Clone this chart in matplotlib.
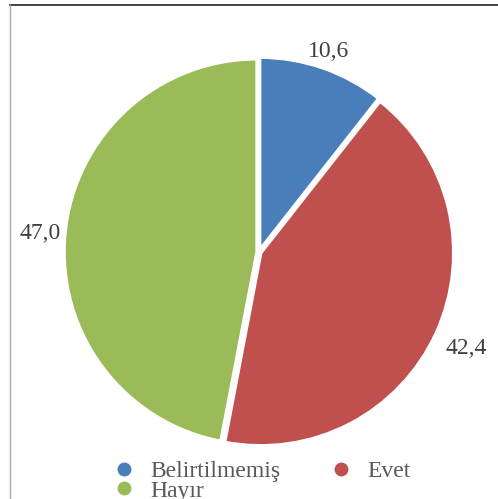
import numpy as np
import matplotlib.pyplot as plt
from matplotlib.lines import Line2D

categories = ['Belirtilmemiş', 'Evet', 'Hayır']
values = [10.6, 42.4, 47.0]
labels = ['10,6', '42,4', '47,0']
colors = ['#4a7ebb', '#c0504d', '#9bbb59']

plt.rcParams['font.family'] = ['Liberation Serif', 'DejaVu Serif']

fig = plt.figure(figsize=(4.98, 4.99), dpi=100)
W, H = 498, 499
ax = fig.add_axes([66 / W, 54 / H, 386 / W, 386 / H])

wedges, _ = ax.pie(values, colors=colors, startangle=90, counterclock=False,
                   explode=[0.01, 0.01, 0.01],
                   wedgeprops={'edgecolor': 'white', 'linewidth': 2.5})
ax.set_xlim(-1, 1)
ax.set_ylim(-1, 1)
ax.set_aspect('equal')
ax.axis('off')

# value labels outside the slices
dists = [1.11, 1.18, 1.14]
cum = np.cumsum([0] + values[:-1])
for v, c, lab, d in zip(values, cum, labels, dists):
    ang = np.deg2rad(90 - (c + v / 2) * 3.6)
    ax.text(d * np.cos(ang), d * np.sin(ang) - 0.012, lab, ha='center', va='center',
            fontsize=17, color='#404040', clip_on=False)

# frame lines at top and left
fig.add_artist(Line2D([10 / W, 1], [1 - 5 / H, 1 - 5 / H], color='#222222', lw=1.2))
fig.add_artist(Line2D([10 / W, 10 / W], [0, 1 - 5 / H], color='#aaaaaa', lw=1.0))

# legend filled row by row: Belirtilmemiş, Evet / Hayır
order = [0, 2, 1]
handles = [Line2D([], [], marker='o', ls='', markersize=11, markerfacecolor=colors[i],
                  markeredgecolor='white', markeredgewidth=1) for i in order]
fig.legend(handles, [categories[i] for i in order], ncol=2, loc='upper left',
           bbox_to_anchor=(98 / W, 1 - 449 / H), frameon=False,
           fontsize=17, labelcolor='#595959', handletextpad=0.5,
           columnspacing=2.0, labelspacing=-0.1, borderpad=0, handlelength=1.2)

fig.savefig('out.png', dpi=100)
